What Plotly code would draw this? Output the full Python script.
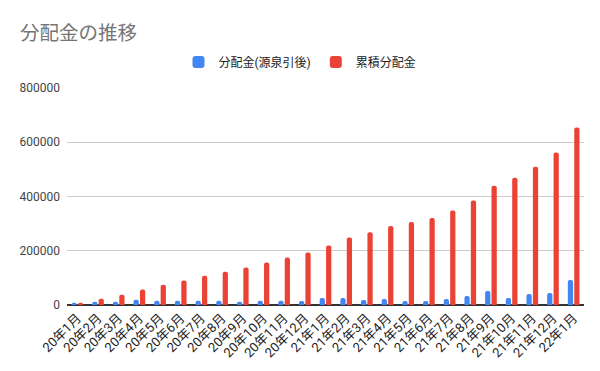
import plotly.graph_objects as go

categories = ["20年1月", "20年2月", "20年3月", "20年4月", "20年5月", "20年6月", "20年7月",
              "20年8月", "20年9月", "20年10月", "20年11月", "20年12月", "21年1月", "21年2月",
              "21年3月", "21年4月", "21年5月", "21年6月", "21年7月", "21年8月", "21年9月",
              "21年10月", "21年11月", "21年12月", "22年1月"]
dividend = [8000, 12000, 12000, 19500, 16000, 16000, 16000, 16000, 12000, 16000, 16000, 15000,
            26000, 26000, 18500, 22000, 15000, 15000, 22000, 33000, 52000, 26000, 41000, 44000, 92000]
cumulative = [8500, 23000, 38000, 57000, 75000, 90000, 108000, 123000, 138000, 157000, 175000,
              194000, 219000, 249000, 268000, 291000, 306000, 321000, 348000, 385000, 440000,
              469000, 510000, 562000, 654000]
yticks = [0, 200000, 400000, 600000, 800000]

fig = go.Figure()
fig.add_trace(go.Bar(x=categories, y=dividend, name="分配金(源泉引後)",
                     marker=dict(color="#4285F4", cornerradius=2, line=dict(width=0))))
fig.add_trace(go.Bar(x=categories, y=cumulative, name="累積分配金",
                     marker=dict(color="#EA4335", cornerradius=2, line=dict(width=0))))

font_family = "Roboto, Noto Sans CJK JP, sans-serif"
fig.update_layout(
    width=600, height=371,
    margin=dict(l=67, r=16, t=88, b=66, autoexpand=False),
    paper_bgcolor="white", plot_bgcolor="white",
    font=dict(family=font_family, color="#222222", size=12),
    title=dict(text="分配金の推移", x=20/600, xanchor="left", xref="container",
               y=1-33/371, yanchor="middle", yref="container",
               font=dict(size=19.5, color="#757575", family=font_family)),
    legend=dict(orientation="h", x=0.5, xanchor="center", xref="container",
                y=1-62/371, yanchor="middle", yref="container",
                font=dict(size=12, color="#222222"), itemwidth=30, traceorder="normal"),
    barmode="group", bargap=0.38, bargroupgap=0.18,
    xaxis=dict(tickangle=-45, tickfont=dict(size=13, color="#222222"), automargin=False,
               showgrid=False, showline=False, ticks="", ticklabelstandoff=2),
    yaxis=dict(range=[0, 800000], tickvals=yticks, ticktext=[str(v) for v in yticks],
               tickfont=dict(size=12, color="#444444"), gridcolor="#cccccc", gridwidth=1,
               zeroline=True, zerolinecolor="#333333", zerolinewidth=1.5, showline=False,
               ticks="", ticklabelstandoff=6, automargin=False),
)
fig.write_html("out.html", post_script="document.body.style.margin='0';",
               config={"displayModeBar": False})
